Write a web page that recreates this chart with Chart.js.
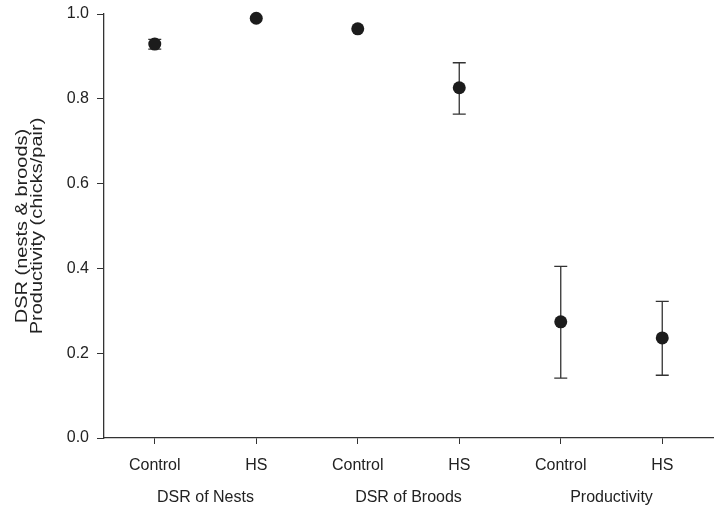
<!DOCTYPE html>
<html>
<head>
<meta charset="utf-8">
<script src="https://cdn.jsdelivr.net/npm/chart.js@4/dist/chart.umd.min.js"></script>
<style>
  html, body { margin: 0; padding: 0; background: #fff; }
  #wrap { width: 714px; height: 510px; position: relative; }
</style>
</head>
<body>
<div id="wrap"><canvas id="dsrChart"></canvas></div>
<script>
// categories along the x axis, and the group each pair belongs to
const categories = ['Control', 'HS', 'Control', 'HS', 'Control', 'HS'];
const groups = ['DSR of Nests', 'DSR of Broods', 'Productivity'];

// estimated values
const means = [0.929, 0.990, 0.965, 0.826, 0.274, 0.236];
const lower = [0.917, 0.990, 0.965, 0.764, 0.141, 0.148];
const upper = [0.940, 0.990, 0.965, 0.885, 0.405, 0.322];

const yTicks = [0, 0.2, 0.4, 0.6, 0.8, 1.0];
const yTitle = ['DSR (nests & broods)', 'Productivity (chicks/pair)'];

const FONT = "'Liberation Sans', Arial, sans-serif";
const INK = '#222';

// error bars with caps, drawn under the points
const errorBars = {
    id: 'errorBars',
    beforeDatasetsDraw(chart) {
        const { ctx, scales: { x, y } } = chart;
        ctx.save();
        ctx.strokeStyle = '#333';
        ctx.lineWidth = 1.3;
        means.forEach((m, i) => {
            if (upper[i] - lower[i] < 0.002) return;
            const px = x.getPixelForValue(i);
            const yl = y.getPixelForValue(lower[i]);
            const yu = y.getPixelForValue(upper[i]);
            ctx.beginPath();
            ctx.moveTo(px, yl); ctx.lineTo(px, yu);
            ctx.moveTo(px - 6.5, yl); ctx.lineTo(px + 6.5, yl);
            ctx.moveTo(px - 6.5, yu); ctx.lineTo(px + 6.5, yu);
            ctx.stroke();
        });
        ctx.restore();
    }
};

// group names under each Control/HS pair, plus the two-line y title
const extraText = {
    id: 'extraText',
    afterDraw(chart) {
        const { ctx, chartArea, scales: { x } } = chart;
        ctx.save();
        ctx.fillStyle = INK;
        ctx.font = '16px ' + FONT;
        ctx.textAlign = 'center';
        ctx.textBaseline = 'alphabetic';
        groups.forEach((g, i) => {
            const cx = (x.getPixelForValue(2 * i) + x.getPixelForValue(2 * i + 1)) / 2;
            ctx.fillText(g, cx, 502);
        });

        // rotated title, glyphs a little narrow as in the original figure
        const cy = (chartArea.top + chartArea.bottom) / 2;
        ctx.font = '20px ' + FONT;
        [27, 42].forEach((bx, i) => {
            ctx.save();
            ctx.translate(bx, cy);
            ctx.rotate(-Math.PI / 2);
            ctx.scale(1, 0.82);
            ctx.fillText(yTitle[i], 0, 0);
            ctx.restore();
        });
        ctx.restore();
    }
};

new Chart(document.getElementById('dsrChart'), {
    type: 'line',
    data: {
        labels: categories,
        datasets: [{
            data: means,
            showLine: false,
            pointRadius: 6.5,
            pointHoverRadius: 6.5,
            pointBackgroundColor: '#1c1c1c',
            pointBorderWidth: 0,
            clip: false
        }]
    },
    options: {
        responsive: true,
        maintainAspectRatio: false,
        animation: false,
        layout: {
            autoPadding: false,
            padding: { top: 14, right: 1, left: 0, bottom: 0 }
        },
        plugins: {
            legend: { display: false },
            tooltip: { enabled: false }
        },
        scales: {
            x: {
                type: 'category',
                offset: true,
                afterFit(scale) {
                    scale.height = 72;
                    scale.paddingLeft = 0;
                    scale.paddingRight = 0;
                },
                grid: {
                    display: true,
                    drawOnChartArea: false,
                    tickLength: 6,
                    color: '#333',
                    offset: false
                },
                border: { color: '#333', width: 1.3 },
                ticks: {
                    color: INK,
                    font: { family: FONT, size: 16 },
                    padding: 12,
                    maxRotation: 0
                }
            },
            y: {
                min: 0,
                max: 1,
                afterFit(scale) {
                    scale.width = 104;
                    scale.paddingTop = 0;
                    scale.paddingBottom = 0;
                },
                afterBuildTicks(scale) { scale.ticks = yTicks.map(v => ({ value: v })); },
                grid: {
                    display: true,
                    drawOnChartArea: false,
                    tickLength: 7,
                    color: '#333'
                },
                border: { color: '#333', width: 1.3 },
                ticks: {
                    color: INK,
                    font: { family: FONT, size: 16 },
                    padding: 8,
                    callback: v => Number(v).toFixed(1)
                }
            }
        }
    },
    plugins: [errorBars, extraText]
});
</script>
</body>
</html>
